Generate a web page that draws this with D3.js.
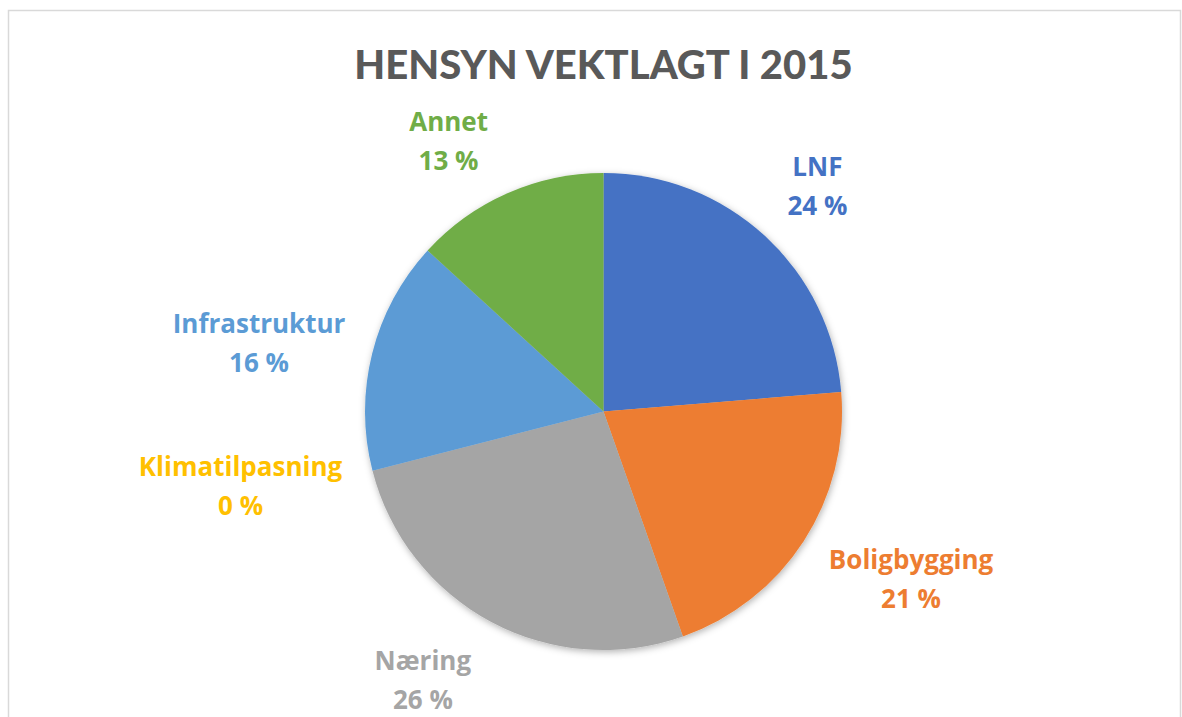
<!DOCTYPE html>
<html>
<head>
<meta charset="utf-8">
<script src="https://cdn.jsdelivr.net/npm/d3@7"></script>
<style>
  html, body { margin: 0; padding: 0; background: #ffffff; }
  svg { display: block; }
  text { font-family: Lato, "Open Sans", "DejaVu Sans", sans-serif; font-weight: bold; }
  text.lbl { font-family: "Open Sans", Lato, sans-serif; }
</style>
</head>
<body>
<svg id="chart" width="1182" height="717"></svg>
<script>
// ---- data ----
const title = "HENSYN VEKTLAGT I 2015";
const categories = ["LNF", "Boligbygging", "Næring", "Klimatilpasning", "Infrastruktur", "Annet"];
const values = [23.7, 20.9, 26.4, 0, 15.8, 13.2];
const colors = ["#4472C4", "#ED7D31", "#A5A5A5", "#FFC000", "#5B9BD5", "#70AD47"];
// label nudges (layout only) relative to a polar anchor
const labelNudge = [[-3, 10], [39, -7], [-30, -14], [-53, -5], [-34, 9], [-26, 22]];

const W = 1182, H = 717;
const cx = 603.5, cy = 411.5, R = 238.5, labelR = 320;

const svg = d3.select("#chart");

const defs = svg.append("defs");
const f = defs.append("filter").attr("id", "shadow")
  .attr("x", "-20%").attr("y", "-20%").attr("width", "140%").attr("height", "140%");
f.append("feDropShadow").attr("dx", 1).attr("dy", 2).attr("stdDeviation", 3.5)
  .attr("flood-color", "#000").attr("flood-opacity", 0.3);

// chart border
svg.append("rect").attr("x", 8.5).attr("y", 10.5).attr("width", 1172).attr("height", 720)
  .attr("fill", "#fff").attr("stroke", "#d9d9d9").attr("stroke-width", 1.5);

// title
svg.append("text").attr("x", cx).attr("y", 79).attr("text-anchor", "middle")
  .attr("fill", "#595959").style("font-size", "40px").style("font-weight", 900).text(title);

const data = categories.map((c, i) => ({ name: c, value: values[i], color: colors[i], nudge: labelNudge[i] }));

const pie = d3.pie().sort(null).value(d => d.value);
const arcs = pie(data);
const arc = d3.arc().innerRadius(0).outerRadius(R);

const g = svg.append("g").attr("transform", `translate(${cx},${cy})`);
g.append("g").attr("filter", "url(#shadow)")
  .selectAll("path").data(arcs).join("path")
  .attr("d", arc).attr("fill", d => d.data.color);

const fmt = v => d3.format(".0f")(v) + " %";

const labels = g.selectAll("text.lbl").data(arcs).join("text")
  .attr("class", "lbl")
  .attr("text-anchor", "middle")
  .attr("fill", d => d.data.color)
  .style("font-size", "26px")
  .attr("transform", d => {
    const a = (d.startAngle + d.endAngle) / 2;
    const x = Math.sin(a) * labelR + d.data.nudge[0];
    const y = -Math.cos(a) * labelR + d.data.nudge[1];
    return `translate(${x},${y})`;
  });
labels.append("tspan").attr("x", 0).attr("y", -10).text(d => d.data.name);
labels.append("tspan").attr("x", 0).attr("y", 29).text(d => fmt(d.data.value));
</script>
</body>
</html>
